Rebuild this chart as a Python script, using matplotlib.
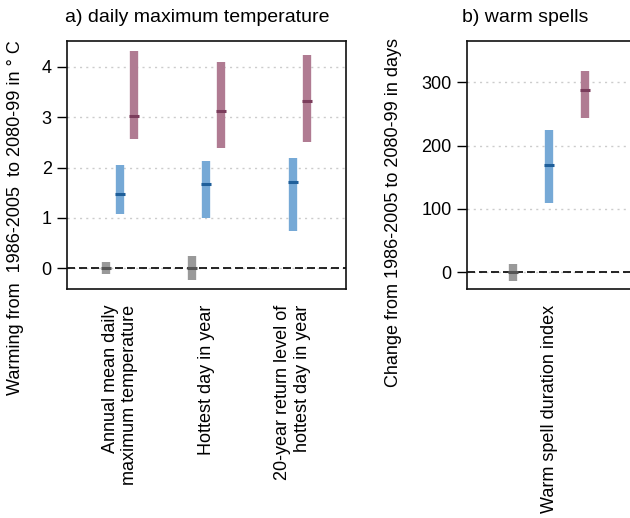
import numpy as np
import matplotlib
matplotlib.use('Agg')
import matplotlib.pyplot as plt

plt.rcParams['font.family'] = ['Liberation Sans', 'DejaVu Sans']

# a) daily maximum temperature, warming in deg C
temp_labels = ['Annual mean daily\nmaximum temperature', 'Hottest day in year',
               '20-year return level of\nhottest day in year']
nat_lo = [-0.12, -0.24, np.nan]
nat_hi = [0.12, 0.24, np.nan]
nat_med = [0.0, 0.0, np.nan]
low_lo = [1.08, 1.00, 0.75]
low_hi = [2.05, 2.13, 2.19]
low_med = [1.47, 1.67, 1.72]
high_lo = [2.56, 2.39, 2.50]
high_hi = [4.32, 4.10, 4.24]
high_med = [3.02, 3.13, 3.32]

# b) warm spells, change in days
wsdi_labels = ['Warm spell duration index']
wsdi_nat = [-13, 13, 0]
wsdi_low = [110, 225, 170]
wsdi_high = [243, 317, 288]

colors = ['#999999', '#76a9d6', '#b07b92']
med_colors = ['#555555', '#1f5f9a', '#7b3d5c']
offsets = [-1/6, 0, 1/6]


def draw_bars(ax, x, lo, hi, med, k):
    x = np.asarray(x, dtype=float) + offsets[k]
    ax.vlines(x, lo, hi, colors=colors[k], lw=6, capstyle='butt', zorder=3)
    ax.plot(x, med, ls='none', marker='_', ms=7.5, mew=2.2,
            color=med_colors[k], zorder=4)


def style_axes(ax):
    ax.axhline(0, color='black', lw=1.2, ls=(0, (4.8, 2.4)), zorder=2)
    ax.yaxis.grid(True, color='#cccccc', lw=1, ls=(0, (1.5, 3)), zorder=1)
    ax.set_axisbelow(True)
    ax.tick_params(axis='y', direction='out', length=7, width=1, labelsize=13, pad=4)
    ax.tick_params(axis='x', length=0, pad=11.5, labelsize=13)
    for s in ax.spines.values():
        s.set_linewidth(1.2)
        s.set_color('#111111')


fig = plt.figure(figsize=(6.3, 5.18), dpi=100)

ax1 = fig.add_axes([0.1063, 0.4421, 0.4429, 0.4788])
x1 = np.arange(1, 4)
draw_bars(ax1, x1, nat_lo, nat_hi, nat_med, 0)
draw_bars(ax1, x1, low_lo, low_hi, low_med, 1)
draw_bars(ax1, x1, high_lo, high_hi, high_med, 2)
ax1.set_xlim(0.384, 3.62)
ax1.set_ylim(-0.41, 4.51)
ax1.set_yticks([0, 1, 2, 3, 4])
ax1.set_xticks(x1)
ax1.set_xticklabels(temp_labels, rotation=90, ha='center', va='top',
                    multialignment='right')
style_axes(ax1)

ax2 = fig.add_axes([0.7408, 0.4421, 0.2616, 0.4788])
x2 = np.array([1])
draw_bars(ax2, x2, [wsdi_nat[0]], [wsdi_nat[1]], [wsdi_nat[2]], 0)
draw_bars(ax2, x2, [wsdi_low[0]], [wsdi_low[1]], [wsdi_low[2]], 1)
draw_bars(ax2, x2, [wsdi_high[0]], [wsdi_high[1]], [wsdi_high[2]], 2)
ax2.set_xlim(0.615, 1.385)
ax2.set_ylim(-26.4, 365)
ax2.set_yticks([0, 100, 200, 300])
ax2.set_xticks(x2)
ax2.set_xticklabels(wsdi_labels, rotation=90, ha='center', va='top')
style_axes(ax2)

fig.text(65/630, 1 - 18/518, 'a) daily maximum temperature', fontsize=14,
         ha='left', va='center')
fig.text(462/630, 1 - 18/518, 'b) warm spells', fontsize=14,
         ha='left', va='center')
fig.text(16/630, 1 - 218/518, 'Warming from  1986-2005  to 2080-99 in ° C',
         fontsize=13, rotation=90, ha='center', va='center')
fig.text(394/630, 1 - 212/518, 'Change from 1986-2005 to 2080-99 in days',
         fontsize=13, rotation=90, ha='center', va='center')

fig.savefig('out.png', dpi=100)
